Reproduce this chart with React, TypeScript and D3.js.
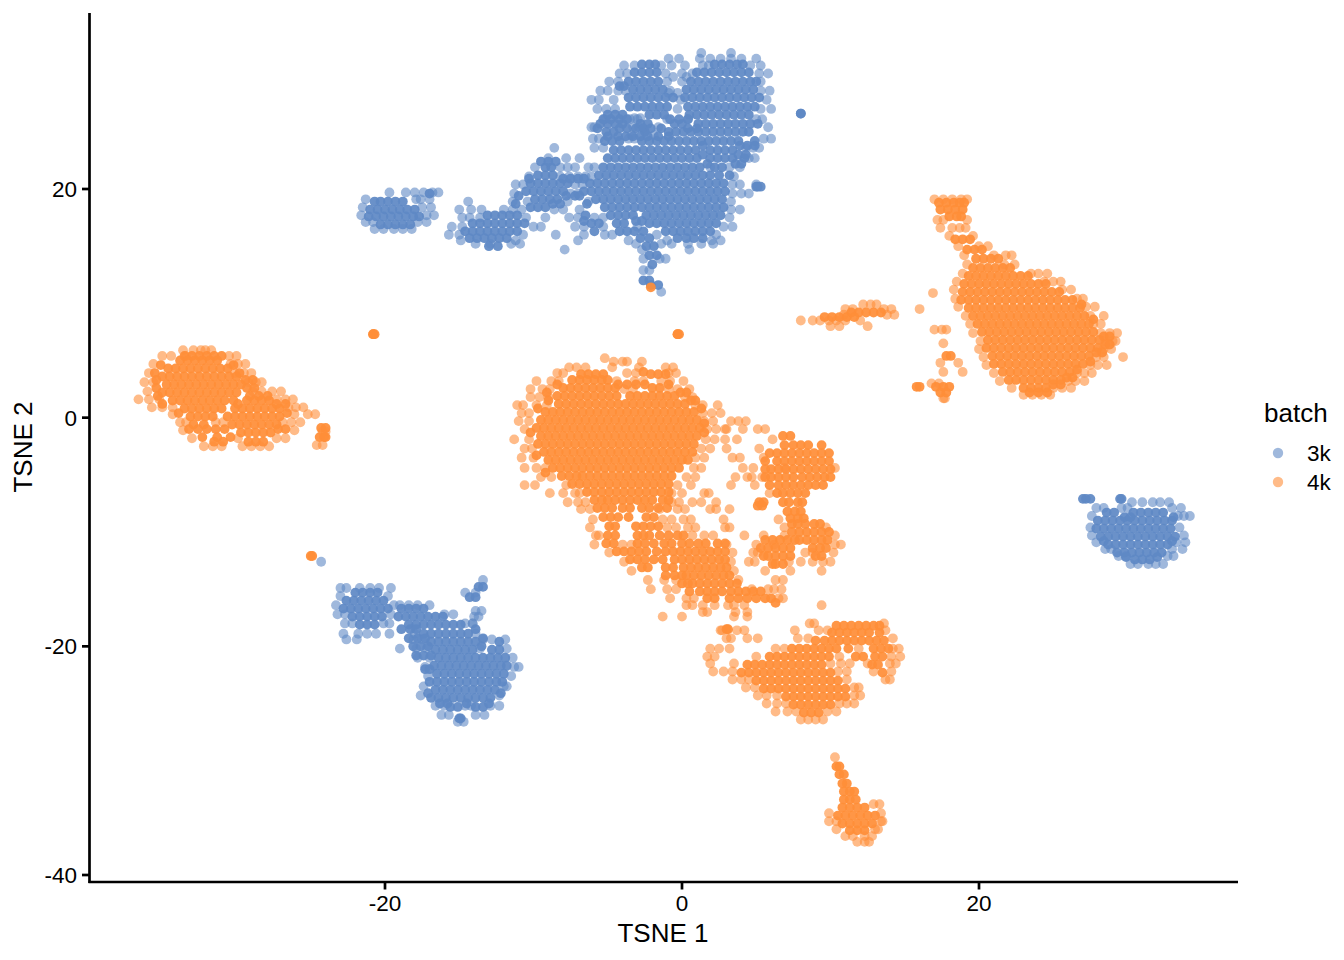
import React from "react";
import * as d3 from "d3";

const WIDTH = 1344;
const HEIGHT = 960;
const xTicks = [-20, 0, 20];
const yTicks = [-40, -20, 0, 20];
const batches = ["3k", "4k"];
const batchColors = ["#5F89C5", "#FF8E38"];

// Each row: first number is TSNE 2, the others are TSNE 1 values read along that row.
const blueCore: number[][] = [
  [30.9, -2.7, -2.2, -1.8, 2.2, 2.7, 3.2, 3.7, 4.1],
  [30.2, -3.2, -2.7, -2.2, -1.7, 1.0, 1.5, 2.0, 2.5, 3.0, 3.5, 4.0, 4.5],
  [29.4, -3.6, -3.1, -2.6, -2.1, -1.6, 0.6, 1.1, 1.6, 2.1, 2.6, 3.1, 3.6, 4.1, 4.6, 5.0],
  [28.7, -3.3, -2.8, -2.3, -1.8, -1.3, 0.3, 0.8, 1.3, 1.8, 2.3, 2.8, 3.3, 3.8, 4.3, 4.8],
  [28.0, -3.6, -3.1, -2.6, -2.1, -1.6, -1.1, -0.6, 0.2, 0.7, 1.2, 1.7, 2.2, 2.7, 3.2, 3.7, 4.2, 4.7, 5.2],
  [27.2, -3.5, -3.0, -2.5, -2.0, -1.5, -1.0, 0.4, 0.9, 1.4, 1.9, 2.4, 2.9, 3.4, 3.9, 4.4, 4.9],
  [26.5, -5.0, -4.5, -4.0, -2.2, -1.7, -1.2, 0.5, 1.0, 1.5, 2.0, 2.5, 3.0, 3.5, 4.0, 4.5],
  [25.7, -5.5, -5.0, -4.5, -4.0, -2.8, -2.3, -0.5, 0.0, 1.1, 1.6, 2.1, 2.6, 3.1, 3.6, 4.1, 4.6, 5.1],
  [25.0, -5.1, -4.6, -2.5, -0.9, -0.4, 0.1, 0.6, 1.1, 1.6, 2.1, 2.6, 3.1, 3.6, 4.1, 4.5],
  [24.2, -5.2, -4.7, -4.2, -2.7, -2.2, -1.7, -1.2, -0.7, -0.2, 0.3, 0.8, 1.3, 1.8, 2.3, 2.8, 3.3, 3.8, 4.9],
  [23.4, -4.6, -4.1, -3.6, -3.1, -2.6, -2.1, -1.6, -1.1, -0.6, -0.1, 0.4, 0.9, 1.9, 2.4, 2.9, 3.4],
  [22.7, -5.0, -4.5, -4.0, -3.5, -3.0, -2.5, -2.0, -1.5, -1.0, -0.5, 0.0, 0.5, 1.0, 1.9, 2.4, 2.9, 3.4, 4.2],
  [21.9, -9.2, -8.8, -5.3, -4.8, -4.3, -3.8, -3.3, -2.8, -2.3, -1.8, -1.3, -0.8, -0.3, 0.2, 0.7, 1.2, 2.2, 2.7],
  [21.2, -9.7, -9.2, -8.7, -5.6, -5.1, -4.6, -4.1, -3.6, -3.1, -2.6, -2.1, -1.6, -1.1, -0.6, -0.1, 0.4, 0.9, 1.4, 1.9, 2.5, 3.2],
  [20.5, -10.2, -9.7, -9.2, -8.7, -8.2, -7.7, -6.2, -5.7, -5.2, -4.7, -4.2, -3.7, -3.2, -2.7, -2.2, -1.7, -1.2, -0.7, -0.2, 0.3, 0.8, 1.3, 1.8, 2.3, 2.8],
  [19.8, -10.5, -10.0, -9.5, -9.0, -8.5, -8.0, -6.6, -6.1, -5.6, -5.1, -4.6, -4.1, -3.6, -3.1, -2.6, -2.1, -1.6, -1.1, -0.6, -0.1, 0.4, 0.9, 1.4, 1.9, 2.4, 2.9],
  [19.1, -9.9, -9.4, -8.9, -8.4, -5.8, -5.3, -4.8, -4.3, -3.8, -3.3, -2.8, -2.3, -1.8, -1.3, -0.8, -0.3, 0.2, 0.7, 1.2, 1.7, 2.2, 2.7],
  [18.4, -10.2, -9.7, -9.2, -5.2, -4.7, -4.2, -3.7, -3.2, -2.7, -2.2, -1.7, -1.2, -0.7, -0.2, 0.3, 0.8, 1.3, 1.8, 2.3, 2.8],
  [17.7, -13.1, -12.6, -12.1, -11.6, -11.1, -6.5, -4.8, -4.3, -3.8, -3.3, -2.4, -1.9, -1.4, -0.9, -0.4, 0.1, 0.6, 1.1, 1.6, 2.1, 2.6],
  [17.0, -14.1, -13.6, -13.1, -12.6, -12.1, -11.6, -11.1, -10.6, -6.1, -5.6, -4.4, -3.9, -2.2, -1.7, -1.2, -0.7, -0.2, 0.3, 0.8, 1.3, 1.8, 2.3],
  [16.3, -14.6, -14.1, -13.6, -13.1, -12.6, -12.1, -11.6, -11.1, -5.9, -4.2, -3.7, -3.2, -2.6, -1.1, -0.6, -0.1, 0.4, 0.9, 1.4, 1.9],
  [15.7, -14.3, -13.8, -13.3, -12.8, -12.3, -11.8, -2.8, -2.2, -0.3, 0.3, 0.8, 1.4],
  [15.0, -13.0, -12.4, -2.4, -1.9],
  [14.2, -2.2, -1.7],
  [13.4, -2.0],
  [12.0, -2.6, -2.2],
  [11.6, -2.1, -1.6],
  [26.6, 8.0, 8.0],
  [20.2, 5.0, 5.1, 5.3],
  [23.8, 1.4, 3.9, 4.4, 4.9],
  [23.0, 1.4, 3.8, 4.3],
  [22.2, 1.7, 3.6, 4.0],
  [26.1, -5.3, -4.8, -4.2, -3.7, -0.8, -0.2, 0.4],
  [25.3, -5.7, -4.2, -3.7, -3.1, -2.6, -2.1, -1.4, 0.4, 1.0],
  [24.6, -5.0, -4.3, -3.8, -3.3, -2.8, -2.3, -1.6, -0.9],
  [29.0, -4.2, -3.9],
  [22.4, -9.5, -9.0, -8.5],
  [20.9, -10.3, -8.0, -7.5, -7.0, -6.6],
  [19.4, -11.0, -7.8, -7.2, -6.9],
  [18.7, -11.2, -8.7, -8.2, -6.4],
  [17.2, -6.6, -3.1, -2.7],
  [19.6, -17.0],
  [18.9, -20.7, -20.3, -19.8, -19.3, -18.8],
  [18.2, -21.0, -20.5, -20.0, -19.5, -19.0, -18.5, -18.0],
  [17.6, -21.1, -20.6, -20.1, -19.6, -19.1, -18.6, -18.1, -17.7],
  [16.9, -20.3, -19.8, -19.3, -18.8, -18.3],
  [-14.8, -13.7, -13.4],
  [-15.7, -14.3, -13.9],
  [-15.3, -22.0, -21.5, -21.0, -20.5],
  [-16.0, -22.6, -22.1, -21.6, -21.1, -20.6, -20.1],
  [-16.7, -22.8, -22.3, -21.8, -21.3, -20.8, -20.3, -19.8, -18.9, -18.4, -17.9, -17.4],
  [-17.4, -22.2, -21.7, -21.2, -20.7, -20.2, -19.1, -18.6, -18.1, -17.6, -17.1, -16.6, -16.1],
  [-18.1, -21.7, -21.2, -20.7, -18.4, -17.9, -17.4, -16.9, -16.4, -15.9, -15.4, -14.9],
  [-18.9, -17.4, -16.9, -16.4, -15.9, -15.4, -14.9, -14.4],
  [-19.6, -16.9, -16.4, -15.9, -15.4, -14.9, -14.4, -13.9, -12.3],
  [-20.3, -16.6, -16.1, -15.6, -15.1, -14.6, -14.1, -12.8, -12.3],
  [-21.0, -16.4, -15.9, -15.4, -14.9, -14.4, -13.9, -13.4, -12.9, -12.4, -11.9],
  [-21.7, -16.7, -16.2, -15.7, -15.2, -14.7, -14.2, -13.7, -13.2, -12.7, -12.2, -11.8],
  [-22.4, -16.5, -16.0, -15.5, -15.0, -14.5, -14.0, -13.5, -13.0, -12.5, -12.0],
  [-23.1, -17.0, -16.5, -16.0, -15.5, -15.0, -14.5, -14.0, -13.5, -13.0, -12.5, -12.1],
  [-23.8, -16.6, -16.1, -15.6, -15.1, -14.6, -14.1, -13.6, -13.1, -12.6],
  [-24.5, -16.9, -16.4, -15.9, -15.4, -14.9, -14.4, -13.9, -13.4, -12.9],
  [-25.3, -15.6, -15.1, -13.9, -13.4],
  [-26.3, -15.0, -14.9],
  [-18.5, -18.9, -18.3, -17.9, -13.9],
  [-19.3, -18.4, -17.8, -17.3, -13.4],
  [-20.0, -18.1, -17.6, -17.1, -13.5],
  [-20.8, -17.9, -17.4, -16.9],
  [-22.0, -17.3, -17.0],
  [-24.1, -17.1, -12.2],
  [-25.0, -16.3, -15.8, -14.5, -13.0],
  [-8.3, 28.6, 29.1, 30.4, 30.9, 31.4, 31.9, 32.4],
  [-9.0, 28.0, 28.5, 29.0, 29.5, 30.0, 30.5, 31.0, 31.5, 32.0, 32.5, 33.0],
  [-9.7, 27.9, 28.4, 28.9, 29.4, 29.9, 30.4, 30.9, 31.4, 31.9, 32.4, 32.9],
  [-10.4, 28.2, 28.7, 29.2, 29.7, 30.2, 30.7, 31.2, 31.7, 32.2, 32.7, 33.2],
  [-11.1, 28.7, 29.2, 29.7, 30.2, 30.7, 31.2, 31.7, 32.2, 32.7],
  [-11.8, 29.3, 29.8, 30.3, 30.8, 31.3, 31.8, 32.3],
  [-12.4, 30.5, 31.0, 31.5],
  [-7.1, 27.0, 27.2, 27.5, 29.5, 29.6],
  [-8.7, 29.8, 30.2, 33.1],
  [-10.8, 28.4, 33.0],
  [-12.2, 29.9, 32.0],
];

const blueRim: number[][] = [
  [31.9, 1.3, 3.3],
  [31.4, -0.9, -0.2, 1.2, 1.9, 2.6, 3.3, 4.0, 5.0],
  [30.8, -3.9, -3.2, -1.4, -0.7, 0.2, 1.4, 1.8, 4.6, 5.3],
  [30.1, -4.2, -3.7, -1.1, 0.0, 0.7, 5.2, 5.8],
  [29.4, -4.9, -4.3, -1.0, 0.0, 5.3],
  [28.6, -5.5, -5.0, -4.3, -3.8, -0.8, 5.3, 5.9],
  [27.8, -6.1, -5.6, -4.6, -0.1, 5.7],
  [27.0, -5.7, -5.1, -4.5, -0.3, 5.3, 6.0],
  [26.1, -5.2, -3.5, -3.0, -1.0, 0.4, 5.0, 5.4],
  [25.4, -6.1, -5.9, -3.3, -2.9, -1.6, 5.8],
  [24.4, -6.0, -5.6, -3.6, -3.2, 5.5, 6.0],
  [23.6, -8.6, -5.9, -5.3, 4.3, 4.8, 5.2],
  [22.7, -9.0, -7.8, -6.9, 4.5, 4.9],
  [21.9, -9.9, -8.2, -7.7, -7.2, -6.3, -5.9, 1.9, 3.2, 3.9],
  [21.1, -10.3, -8.2, -7.6, -7.0, -6.5, -6.1, 3.5],
  [20.4, -11.2, -10.7, -7.2, -6.7, 3.4, 3.9, 5.0],
  [19.6, -11.3, -7.5, -7.0, 3.4, 4.0, 4.5],
  [18.9, -14.4, -11.4, -10.4, -7.7, -6.3, 3.3],
  [18.2, -15.0, -14.2, -13.5, -12.0, -11.4, -10.8, -8.6, -8.0, -6.9, 3.3, 3.9],
  [17.5, -14.8, -14.3, -13.6, -10.5, -9.2, -7.6, -7.0, -5.9, -5.3, 3.2],
  [16.7, -15.5, -14.8, -10.0, -9.5, -7.2, -6.6, -5.3, -3.0, 2.8, 3.4],
  [16.0, -15.7, -15.0, -10.7, -8.5, -6.6, -5.2, -4.7, -1.7, 2.3],
  [15.5, -14.9, -11.2, -7.0, -3.6, -1.0, 2.0, 2.6],
  [15.2, -13.9, -12.9, -11.5, -10.9, -3.1, -1.4, -0.7, 0.4, 1.3, 2.1],
  [14.7, -7.9, -2.7, 0.5],
  [13.9, -2.6, -1.5, -1.1],
  [12.9, -2.6, -2.2],
  [11.0, -1.4],
  [29.8, -0.6, 0.3],
  [28.4, -0.9, -0.3],
  [26.2, -3.2, -2.8],
  [24.7, -3.4, -1.9],
  [19.7, -16.8, -16.4, -17.4, -18.0, -18.6, -19.7],
  [19.1, -21.3, -17.9, -17.6, -17.0],
  [18.4, -21.5, -17.5, -16.9],
  [17.7, -21.6, -17.2, -16.7],
  [17.1, -21.3, -20.8, -17.8, -17.2],
  [16.5, -20.7, -20.1, -19.4, -18.8, -18.2],
  [-12.6, -24.3],
  [-14.2, -13.4],
  [-15.3, -13.9, -14.6],
  [-16.9, -13.9, -13.5],
  [-17.4, -14.0, -13.7],
  [-18.0, -14.1],
  [-14.9, -23.0, -22.6, -21.7, -21.0, -20.4, -19.6],
  [-15.6, -23.0, -19.8],
  [-16.4, -23.3, -19.4, -19.0, -18.4, -17.8, -17.0],
  [-17.2, -23.2, -22.7, -19.6, -16.0, -15.4],
  [-18.0, -22.7, -22.2, -20.1, -19.7, -14.6, -14.1],
  [-18.9, -22.8, -21.8, -21.2, -20.6, -19.7, -18.0, -13.9],
  [-19.4, -22.6, -21.9, -18.1, -17.5, -13.4, -12.8, -11.9],
  [-20.2, -19.0, -17.9, -17.2, -13.6, -11.8],
  [-21.0, -17.8, -17.0, -11.4],
  [-21.8, -17.3, -11.3, -11.0],
  [-22.6, -17.1, -11.5],
  [-23.5, -17.4, -12.0, -11.8],
  [-24.3, -17.6, -12.3],
  [-25.2, -16.6, -16.0, -14.6, -14.2, -12.9, -12.3],
  [-26.0, -16.2, -15.7, -13.9, -13.3],
  [-26.6, -15.1, -14.7],
  [-7.4, 30.3, 31.0, 31.7, 32.2, 32.8],
  [-7.9, 27.9, 28.4, 29.6, 30.0, 33.0, 33.6],
  [-8.6, 27.6, 33.4, 34.2, 33.8],
  [-9.6, 27.5, 33.5],
  [-10.3, 27.6, 33.8],
  [-10.9, 27.9, 33.3, 33.9],
  [-11.5, 28.5, 28.9, 33.0, 33.7],
  [-12.1, 29.4, 29.9, 32.7, 33.1],
  [-12.8, 30.2, 30.7, 31.4, 31.9, 32.4],
];

const orangeCore: number[][] = [
  [5.4, -33.5, -33.0, -32.5, -32.0, -31.5, -31.0],
  [5.0, -33.8, -33.3, -32.8, -32.3, -31.8, -31.3],
  [4.6, -35.1, -30.2],
  [4.3, -34.6, -34.1, -33.6, -33.1, -32.6, -32.1, -31.6, -31.1, -30.6],
  [3.9, -35.5, -29.8],
  [3.6, -35.0, -34.5, -34.0, -33.5, -33.0, -32.5, -32.0, -31.5, -31.0, -30.5, -30.0],
  [2.9, -34.7, -34.2, -33.7, -33.2, -32.7, -32.2, -31.7, -31.2, -30.7, -30.2, -29.7],
  [2.6, -35.4, -29.3, -28.8],
  [2.2, -35.0, -34.5, -34.0, -33.5, -33.0, -32.5, -32.0, -31.5, -31.0, -30.5, -30.0],
  [1.9, -35.3, -29.1, -28.5, -27.9],
  [1.5, -34.3, -33.8, -33.3, -32.8, -32.3, -31.8, -31.3, -30.8, -30.2, -29.3, -28.8, -28.3, -27.8],
  [0.8, -33.5, -33.0, -32.5, -32.0, -31.5, -31.0, -30.1, -29.6, -29.1, -28.6, -28.1, -27.6, -27.1],
  [0.4, -33.9, -26.6],
  [0.1, -33.1, -32.6, -32.1, -31.6, -30.6, -30.1, -29.6, -29.1, -28.6, -28.1, -27.6, -27.1],
  [-0.6, -32.9, -32.2, -30.3, -29.8, -29.3, -28.8, -28.3, -27.8, -27.3],
  [-1.0, -33.2, -32.6, -32.0, -31.4, -30.8, -27.2, -26.7],
  [-1.3, -29.7, -29.2, -28.7, -28.2, -27.7],
  [-2.1, -31.5, -30.9, -29.2, -28.7, -28.2],
  [3.3, -35.4, -29.4, -28.9],
  [1.2, -35.0, -29.9, -27.3, -26.7],
  [-1.7, -32.3, -31.3, -30.4],
  [7.3, -20.8, -20.8, -20.7, -0.3, -0.3, -0.2],
  [11.4, -2.1],
  [-12.1, -25.0, -24.9],
  [18.8, 17.3, 17.8, 18.3, 18.7, 19.0],
  [18.2, 17.4, 17.9, 18.4, 18.9],
  [17.6, 18.0, 18.5, 18.8],
  [15.6, 18.4, 18.9, 19.4],
  [14.7, 19.2, 19.7, 20.2],
  [13.9, 19.8, 20.3, 20.8, 21.3],
  [13.1, 19.6, 20.1, 20.6, 21.1, 21.6, 22.1],
  [12.4, 19.3, 19.8, 20.3, 20.8, 21.3, 21.8, 22.3, 22.8, 23.3],
  [11.7, 19.0, 19.5, 20.0, 20.5, 21.0, 21.5, 22.0, 22.5, 23.0, 23.5, 24.0, 24.5],
  [11.0, 18.9, 19.4, 19.9, 20.4, 20.9, 21.4, 21.9, 22.4, 22.9, 23.4, 23.9, 24.4, 24.9, 25.4],
  [10.3, 18.8, 19.3, 19.8, 20.3, 20.8, 21.3, 21.8, 22.3, 22.8, 23.3, 23.8, 24.3, 24.8, 25.3, 25.8, 26.3],
  [9.9, 26.9],
  [9.6, 19.3, 19.8, 20.3, 20.8, 21.3, 21.8, 22.3, 22.8, 23.3, 23.8, 24.3, 24.8, 25.3, 25.8, 26.3, 26.8],
  [8.9, 19.6, 20.1, 20.6, 21.1, 21.6, 22.1, 22.6, 23.1, 23.6, 24.1, 24.6, 25.1, 25.6, 26.1, 26.6, 27.1],
  [8.6, 27.7],
  [8.2, 19.9, 20.4, 20.9, 21.4, 21.9, 22.4, 22.9, 23.4, 23.9, 24.4, 24.9, 25.4, 25.9, 26.4, 26.9, 27.4],
  [7.5, 20.2, 20.7, 21.2, 21.7, 22.2, 22.7, 23.2, 23.7, 24.2, 24.7, 25.2, 25.7, 26.2, 26.7, 27.2, 27.7],
  [7.1, 28.4, 28.8],
  [6.8, 20.6, 21.1, 21.6, 22.1, 22.6, 23.1, 23.6, 24.1, 24.6, 25.1, 25.6, 26.1, 26.6, 27.1, 27.6, 28.1],
  [6.4, 28.5, 28.8],
  [6.1, 20.5, 21.0, 21.5, 22.0, 22.5, 23.0, 23.5, 24.0, 24.5, 25.0, 25.5, 26.0, 26.5, 27.0, 27.5, 28.0],
  [5.7, 27.9, 28.3],
  [5.4, 20.9, 21.4, 21.9, 22.4, 22.9, 23.4, 23.9, 24.4, 24.9, 25.4, 25.9, 26.4, 26.9, 27.4],
  [4.9, 27.5],
  [4.7, 21.0, 21.5, 22.0, 22.5, 23.0, 23.5, 24.0, 24.5, 25.0, 25.5, 26.0, 26.5, 27.0],
  [4.2, 26.6],
  [4.0, 21.6, 22.1, 22.6, 23.1, 23.6, 24.1, 24.6, 25.1, 25.6, 26.1],
  [3.5, 25.9, 26.3],
  [3.3, 22.0, 22.5, 23.0, 23.5, 24.0, 24.5, 25.0, 25.5],
  [2.9, 25.0, 25.5],
  [2.6, 23.0, 23.5, 24.0, 24.5],
  [2.2, 23.4, 24.0, 24.6],
  [9.2, 11.4, 11.9, 12.4, 12.9, 13.4],
  [8.8, 9.6, 10.1, 10.6, 11.1, 11.6],
  [4.0, -2.6],
  [3.8, -6.8, -6.3, -5.8, -5.3, -2.1, -1.6, -1.1],
  [3.3, -7.4, -6.9, -6.4, -5.9, -5.4, -5.0],
  [2.9, -8.4, -4.3, -3.7, -3.1, -2.5, -0.9],
  [2.6, -8.0, -7.5, -7.0, -6.5, -6.0, -5.5, -5.0, -4.5, -2.0, -1.5],
  [2.2, -9.1, -0.1, 0.3],
  [1.9, -8.4, -7.9, -7.4, -6.9, -6.4, -5.9, -5.4, -4.9, -4.4, -3.5, -3.0, -2.5, -2.0, -1.5, -1.0, -0.5],
  [1.5, -9.0, 0.6, 0.9],
  [1.2, -8.3, -7.8, -7.3, -6.8, -6.3, -5.8, -5.3, -4.8, -4.3, -3.8, -3.3, -2.8, -2.3, -1.8, -1.3, -0.8, -0.3, 0.2],
  [0.8, -9.7, 1.3],
  [0.5, -9.2, -8.7, -8.2, -7.7, -7.2, -6.7, -6.2, -5.7, -5.2, -4.7, -4.2, -3.7, -3.2, -2.7, -2.2, -1.7, -1.2, -0.7, -0.2, 0.3, 0.8],
  [-0.2, -9.5, -9.0, -8.5, -8.0, -7.5, -7.0, -6.5, -6.0, -5.5, -5.0, -4.5, -4.0, -3.5, -3.0, -2.5, -2.0, -1.5, -1.0, -0.5, 0.0, 0.5, 1.0],
  [-0.5, 1.5],
  [-0.9, -9.8, -9.3, -8.8, -8.3, -7.8, -7.3, -6.8, -6.3, -5.8, -5.3, -4.8, -4.3, -3.8, -3.3, -2.8, -2.3, -1.8, -1.3, -0.8, -0.3, 0.2, 0.7, 1.2],
  [-1.3, -10.2, 1.5],
  [-1.6, -9.5, -9.0, -8.5, -8.0, -7.5, -7.0, -6.5, -6.0, -5.5, -5.0, -4.5, -4.0, -3.5, -3.0, -2.5, -2.0, -1.5, -1.0, -0.5, 0.0, 0.5, 1.0],
  [-2.3, -9.7, -9.2, -8.7, -8.2, -7.7, -7.2, -6.7, -6.2, -5.7, -5.2, -4.7, -4.2, -3.7, -3.2, -2.7, -2.2, -1.7, -1.2, -0.7, -0.2, 0.3, 0.8],
  [-3.0, -9.3, -8.8, -8.3, -7.8, -7.3, -6.8, -6.3, -5.8, -5.3, -4.8, -4.3, -3.8, -3.3, -2.8, -2.3, -1.8, -1.3, -0.8, -0.3, 0.2, 0.7],
  [-3.3, -9.8],
  [-3.7, -9.0, -8.5, -8.0, -7.5, -7.0, -6.5, -6.0, -5.5, -5.0, -4.5, -4.0, -3.5, -3.0, -2.5, -2.0, -1.5, -1.0, -0.5, 0.0, 0.4],
  [-4.4, -8.7, -8.2, -7.7, -7.2, -6.7, -6.2, -5.7, -5.2, -4.7, -4.2, -3.7, -3.2, -2.7, -2.2, -1.7, -1.2, -0.7, -0.2],
  [-4.8, -9.2],
  [-5.1, -8.1, -7.6, -7.1, -6.7, -6.2, -5.7, -5.2, -4.7, -4.2, -3.7, -3.2, -2.7, -2.2, -1.7, -1.2, -0.7],
  [-5.8, -7.4, -6.9, -6.4, -5.9, -5.4, -4.9, -4.4, -3.9, -3.4, -2.9, -2.4, -1.9, -1.4, -0.9],
  [-6.5, -6.4, -5.9, -5.4, -4.9, -4.4, -3.9, -3.4, -2.9, -2.4, -1.9, -1.4, -0.9],
  [-7.2, -5.9, -5.4, -5.0, -4.5, -4.0, -3.5, -3.0, -2.5, -2.0, -1.3, -0.9],
  [-7.9, -5.7, -5.2, -4.7, -4.0, -3.5, -2.7, -2.2, -1.6, -1.0],
  [-8.7, -5.3, -4.8, -4.3, -3.6, -1.9, -2.4],
  [-9.5, -4.9, -4.5, -3.1, -2.6, -2.1, -1.6],
  [-10.3, -2.2, -1.5, -0.9, -0.3, 0.1, -3.0, -2.6, -5.0, -4.5],
  [-11.0, -5.1, -4.6, -3.0, -2.5, -1.9, -1.2, -0.7, 0.0, 0.5, 1.1, 1.6, 2.4, 2.9],
  [-11.7, -4.4, -3.9, -3.4, -2.9, -2.4, -1.7, -1.1, -0.6, -0.1, 0.4, 0.9, 1.4, 1.9, 2.4, 2.9],
  [-12.4, -3.5, -3.0, -2.5, -1.9, -1.3, -0.5, 0.0, 0.5, 1.0, 1.5, 2.0, 2.5, 2.9],
  [-13.1, -2.7, -2.3, -1.1, -0.6, 0.1, 0.6, 1.1, 1.6, 2.1, 2.6, 3.0],
  [-13.8, -1.1, -0.5, 0.0, 0.3, 0.8, 1.3, 1.8, 2.3, 2.8, 3.2],
  [-14.5, 0.0, 0.4, 0.7, 1.2, 1.7, 2.2, 2.7, 3.2, 3.7],
  [-15.2, 0.5, 1.2, 1.7, 2.2, 2.7, 3.3, 3.8, 4.3, 4.8, 5.3],
  [-15.8, 1.7, 2.2, 3.2, 3.8, 4.4, 5.0, 5.6, 6.0],
  [-16.2, 6.3],
  [-1.6, 6.8, 7.3],
  [-2.4, 6.9, 7.5, 8.0, 8.5, 9.4],
  [-3.1, 5.9, 6.4, 6.9, 7.4, 7.9, 8.4, 8.9, 9.4, 9.9],
  [-3.8, 5.6, 6.4, 6.9, 7.4, 7.9, 8.4, 8.9, 9.4, 9.9],
  [-4.5, 5.6, 6.0, 6.5, 7.0, 7.5, 8.0, 8.5, 9.0, 9.5, 10.0],
  [-5.2, 5.6, 6.0, 6.5, 7.0, 7.5, 8.1, 8.6, 9.1, 9.6, 10.0],
  [-5.9, 5.9, 6.5, 7.0, 7.5, 8.0, 8.5, 9.0, 9.5],
  [-6.6, 6.4, 6.8, 7.3, 7.8, 8.3],
  [-7.4, 6.8, 7.2, 7.8, 8.1, 5.2, 5.5],
  [-8.2, 7.1, 7.6, 8.0],
  [-8.8, 7.3, 7.8, 8.2],
  [-9.3, 7.4, 7.8, 8.3, 8.9, 9.3],
  [-10.0, 7.4, 7.9, 8.4, 8.9, 9.4, 9.9],
  [-10.7, 5.6, 6.1, 6.6, 7.1, 7.6, 7.9, 8.4, 8.9, 9.4, 9.8],
  [-11.4, 5.3, 5.8, 6.3, 6.8, 7.3, 8.8, 9.3, 9.7],
  [-12.1, 5.5, 5.8, 6.3, 6.8, 7.3, 9.0, 9.4],
  [-12.8, 6.1, 6.3, 6.8],
  [-18.2, 10.4, 10.9, 11.4, 11.9, 12.4, 12.9, 13.3],
  [-18.8, 10.1, 10.6, 11.1, 11.6, 12.1, 12.6, 13.3],
  [-19.5, 9.0, 9.6, 10.1, 10.6, 11.1, 11.6, 12.1, 12.6, 13.1, 13.6],
  [-20.2, 7.4, 7.9, 8.4, 8.9, 9.4, 9.9, 10.4, 11.2, 12.9, 13.4, 13.9],
  [-20.9, 5.9, 6.4, 6.9, 7.4, 7.9, 8.4, 8.9, 9.4, 9.9, 11.7, 12.2, 13.0, 13.5],
  [-21.6, 4.4, 4.9, 5.4, 5.9, 6.4, 6.9, 7.4, 7.9, 8.4, 8.9, 9.4, 12.8, 13.2],
  [-22.3, 4.0, 4.5, 5.0, 5.5, 6.0, 6.5, 7.0, 7.5, 8.0, 8.5, 9.0, 9.5, 10.0, 13.5],
  [-23.0, 5.0, 5.5, 6.0, 6.5, 7.0, 7.5, 8.0, 8.5, 9.0, 9.5, 10.0, 10.5],
  [-23.7, 5.5, 6.0, 6.5, 7.0, 7.5, 8.0, 8.5, 9.0, 9.5, 10.0, 10.5, 11.0],
  [-24.4, 7.0, 7.5, 8.0, 8.5, 9.0, 9.5, 10.0, 10.5, 11.0],
  [-25.1, 7.5, 8.0, 8.5, 9.0, 9.5, 10.0],
  [-25.8, 8.2, 8.7, 9.2],
  [-30.5, 10.4, 10.6],
  [-31.2, 10.6, 10.9],
  [-32.0, 10.8, 11.1],
  [-32.7, 10.9, 11.3, 11.6],
  [-33.4, 10.9, 11.3, 11.7],
  [-34.1, 10.8, 11.3, 11.8, 12.3],
  [-34.8, 10.5, 11.0, 11.5, 12.0, 12.5, 13.0],
  [-35.5, 10.8, 11.3, 11.8, 12.3, 12.8],
  [-36.1, 11.3, 11.8, 12.3],
  [2.7, 15.8, 16.0, 17.1, 17.6, 18.0],
  [2.2, 17.4, 17.8],
  [5.4, 17.8, 18.1],
  [-0.9, -24.3, -24.0],
  [-1.7, -24.4, -24.1, -24.0],
  [-7.7, 5.1, 5.4],
  [-18.5, 3.0, 3.1],
];

const orangeRim: number[][] = [
  [5.9, -33.6, -32.1, -31.7, -32.9, -32.4],
  [5.4, -35.0, -34.4, -33.4, -30.5, -30.0],
  [4.7, -35.6, -30.4, -29.9, -29.4],
  [3.9, -35.9, -30.1, -29.5, -29.0],
  [3.1, -36.2, -35.6, -29.2, -28.7, -28.3],
  [2.3, -36.0, -28.9, -28.3, -27.6, -27.0],
  [1.6, -36.6, -35.9, -35.2, -27.3, -26.7, -26.2],
  [0.9, -35.7, -35.0, -34.3, -26.5, -26.0, -25.5],
  [0.3, -34.3, -26.1, -25.2, -24.7],
  [-0.4, -33.8, -33.4, -31.4, -30.9, -26.9, -26.3, -25.7],
  [-1.1, -33.6, -26.1],
  [-1.8, -33.0, -29.9, -27.3, -26.7],
  [-2.5, -32.2, -31.6, -31.0, -29.6, -29.0, -28.4, -27.8],
  [-1.2, -24.0, -24.2],
  [-2.4, -24.6, -24.2],
  [19.1, 17.0, 17.6, 18.2, 18.8, 19.2],
  [17.3, 17.2, 17.6, 19.2],
  [16.6, 17.4, 18.2, 18.7, 19.1],
  [15.9, 18.0, 19.6],
  [15.0, 18.6, 20.0, 20.6],
  [14.2, 19.0, 21.0, 21.8, 22.2],
  [13.4, 19.2, 21.7, 22.4],
  [12.6, 18.9, 23.5, 24.0, 24.6],
  [11.9, 18.5, 24.4, 25.0, 25.5],
  [11.2, 18.3, 25.6, 26.2],
  [10.4, 18.4, 26.6, 27.0],
  [9.7, 18.6, 27.2, 27.8],
  [8.9, 19.1, 27.5, 28.4],
  [8.2, 19.4, 27.7, 28.2],
  [7.4, 19.6, 28.2, 28.8, 29.3],
  [6.7, 20.1, 28.5, 29.0, 29.2],
  [6.0, 20.0, 28.4, 28.9],
  [5.3, 20.3, 27.9, 28.4, 29.7],
  [4.6, 20.5, 27.5, 28.0, 28.6],
  [3.9, 21.0, 26.6, 27.1, 27.6],
  [3.2, 21.4, 26.0, 26.5, 27.1],
  [2.6, 22.2, 25.0, 25.6, 26.2],
  [2.0, 23.0, 23.6, 24.2, 24.8],
  [10.9, 16.9],
  [9.5, 16.0],
  [7.7, 17.0, 17.5, 17.8],
  [6.5, 17.6],
  [4.8, 17.4, 18.6],
  [4.0, 17.6, 18.9],
  [3.0, 16.8, 17.3],
  [1.7, 17.6, 17.7],
  [9.9, 12.2, 12.7, 13.1],
  [9.5, 11.0, 11.5, 13.6, 14.1],
  [9.0, 14.3, 13.8, 10.9],
  [8.5, 8.0, 8.8, 9.3, 9.9, 10.4, 11.0, 12.0],
  [8.0, 10.0, 10.6, 12.5],
  [5.2, -5.2],
  [4.9, -4.6, -4.0, -3.7, -2.7],
  [4.4, -7.6, -7.1, -6.5, -4.7, -2.9, -1.1, -0.6],
  [3.9, -8.4, -8.0, -3.7, -3.1, -0.9, -0.4],
  [3.2, -9.8, -8.8, -8.3, -4.4, -3.2, -2.6, -1.4, -0.8, 0.1],
  [2.5, -10.2, -9.4, -8.9, -3.9, -3.3, -0.9, -0.3, 0.5],
  [1.8, -10.2, -9.6, -9.0, 0.2, 0.7],
  [1.1, -11.1, -10.7, -9.8, -9.1, 0.9, 1.4, 2.4],
  [0.4, -10.8, -10.3, 1.4, 2.0, 2.6],
  [-0.3, -11.0, -10.3, 1.5, 2.1, 3.3, 3.8, 4.3],
  [-1.0, -10.6, 1.7, 2.3, 2.9, 3.0, 4.1, 5.1, 5.6],
  [-1.9, -11.3, -10.3, 1.6, 2.2, 2.9, 3.7, 6.1],
  [-2.7, -10.6, -10.1, 1.3, 1.9, 3.0, 5.2],
  [-3.5, -10.8, -10.0, 0.9, 1.5, 3.4, 3.9, 5.5],
  [-4.4, -10.6, -9.8, -9.2, 0.8, 1.3, 4.1, 4.8, 6.9, 10.3],
  [-5.2, -9.5, -8.8, 0.3, 0.9, 3.6, 4.4, 4.7, 5.4],
  [-5.9, -10.6, -9.9, -7.8, -0.3, 0.6, 3.3, 4.9],
  [-6.6, -8.9, -8.0, -7.2, -6.9, -0.7, 0.0, 1.5, 1.8, 5.9],
  [-7.4, -7.7, -7.0, -6.5, -0.7, -0.2, 0.7, 1.3, 2.3],
  [-8.0, -6.8, -6.2, -1.5, -0.3, 0.2, 1.9, 2.3, 3.2],
  [-8.9, -6.0, -1.3, -0.7, 0.1, 0.6, 2.8, 6.5],
  [-9.6, -6.2, -1.0, -0.4, 0.4, 0.9, 2.9, 3.2, 6.9, 9.7],
  [-10.3, -5.8, -5.6, 0.7, 1.5, 2.1, 4.2, 5.5, 6.9, 10.3],
  [-11.1, -5.9, -4.0, -3.4, 3.0, 5.0, 6.2, 10.3, 10.7],
  [-11.8, -4.9, 3.4, 4.8, 5.1, 8.3, 8.8, 10.2],
  [-12.6, -3.9, 3.3, 4.5, 4.9, 7.2, 8.0, 8.8, 9.5, 10.0],
  [-13.4, -3.4, 3.5, 5.6, 7.3, 9.4],
  [-14.2, -2.3, -1.2, -0.4, 3.8, 6.3, 6.8],
  [-15.0, -2.1, -1.0, -0.4, 4.7, 5.8, 6.2, 6.7],
  [-15.8, -0.8, 0.3, 0.8, 6.5, 6.8],
  [-16.4, 0.3, 0.7, 1.4, 2.2, 3.1, 3.5, 4.2, 9.4],
  [-17.0, 1.4, 1.7, 3.6, 4.4],
  [-17.4, -1.3, 0.0, 3.5, 4.4],
  [-18.0, 8.6, 8.9, 13.6],
  [-18.6, 2.6, 2.7, 3.7, 4.2, 7.6, 9.2, 9.8, 13.7],
  [-19.3, 3.0, 3.3, 4.4, 5.1, 7.8, 8.5, 14.2],
  [-20.2, 1.9, 2.5, 3.2, 6.3, 6.9, 11.9, 14.2, 14.6],
  [-20.9, 1.7, 2.2, 5.0, 10.6, 14.1, 14.7],
  [-21.5, 1.9, 3.5, 10.0, 10.7, 11.3, 12.5, 14.0, 14.4],
  [-22.2, 2.1, 2.8, 3.4, 10.5, 11.1, 12.9, 14.1],
  [-22.9, 3.4, 4.0, 4.5, 11.1, 13.7, 14.0],
  [-23.6, 4.3, 4.9, 11.6, 11.9],
  [-24.3, 5.1, 5.7, 6.4, 11.6, 12.0],
  [-25.0, 5.7, 6.4, 7.0, 10.6, 11.1, 11.6],
  [-25.7, 6.3, 7.1, 7.7, 9.8, 10.4],
  [-26.4, 8.0, 8.5, 9.0, 9.5],
  [-29.7, 10.3],
  [-33.8, 12.9, 13.3],
  [-34.6, 9.9, 13.4],
  [-35.3, 9.9, 10.4, 13.4, 13.5],
  [-36.0, 10.4, 13.0, 13.2],
  [-36.6, 11.0, 11.5, 12.3, 12.8],
  [-37.1, 11.8, 12.3, 12.6],
];

const xScale = d3.scaleLinear().domain([-20, 20]).range([385, 979]);
const yScale = d3.scaleLinear().domain([-40, 20]).range([875, 189]);
const PANEL = { left: 89.5, right: 1238, top: 13, bottom: 882 };
const FONT = "'Liberation Sans', Arial, sans-serif";

function Dots({ rows, color, opacity, r }: { rows: number[][]; color: string; opacity: number; r: number }) {
  return (
    <g fill={color} fillOpacity={opacity}>
      {rows.flatMap((row, i) =>
        row.slice(1).map((x, j) => <circle key={`${i}-${j}`} cx={xScale(x)} cy={yScale(row[0])} r={r} />)
      )}
    </g>
  );
}

export default function App() {
  const stroke = 2.7;
  return (
    <svg
      width={WIDTH}
      height={HEIGHT}
      viewBox={`0 0 ${WIDTH} ${HEIGHT}`}
      style={{ position: "absolute", left: 0, top: 0, background: "#fff" }}
      fontFamily={FONT}
    >
      <Dots rows={blueRim} color={batchColors[0]} opacity={0.6} r={4.9} />
      <Dots rows={blueCore} color={batchColors[0]} opacity={0.93} r={4.9} />
      <Dots rows={orangeRim} color={batchColors[1]} opacity={0.6} r={4.9} />
      <Dots rows={orangeCore} color={batchColors[1]} opacity={0.93} r={4.9} />

      <line x1={PANEL.left} x2={PANEL.left} y1={PANEL.top} y2={PANEL.bottom + 1} stroke="#000" strokeWidth={stroke} />
      <line x1={PANEL.left - 1} x2={PANEL.right} y1={PANEL.bottom} y2={PANEL.bottom} stroke="#000" strokeWidth={stroke} />

      {xTicks.map((t) => (
        <g key={t}>
          <line x1={xScale(t)} x2={xScale(t)} y1={PANEL.bottom} y2={PANEL.bottom + 7.5} stroke="#000" strokeWidth={stroke} />
          <text x={xScale(t)} y={911} textAnchor="middle" fontSize={22.5} fill="#000">{t}</text>
        </g>
      ))}
      {yTicks.map((t) => (
        <g key={t}>
          <line x1={PANEL.left - 7.5} x2={PANEL.left} y1={yScale(t)} y2={yScale(t)} stroke="#000" strokeWidth={stroke} />
          <text x={77} y={yScale(t) + 8} textAnchor="end" fontSize={22.5} fill="#000">{t}</text>
        </g>
      ))}

      <text x={663} y={942} textAnchor="middle" fontSize={26}>TSNE 1</text>
      <text transform="translate(32,447) rotate(-90)" textAnchor="middle" fontSize={26}>TSNE 2</text>

      <text x={1264} y={422} fontSize={26}>batch</text>
      {batches.map((b, i) => (
        <g key={b}>
          <circle cx={1278} cy={453 + i * 29} r={5.2} fill={batchColors[i]} fillOpacity={0.6} />
          <text x={1307} y={461 + i * 29} fontSize={22.5}>{b}</text>
        </g>
      ))}
    </svg>
  );
}
